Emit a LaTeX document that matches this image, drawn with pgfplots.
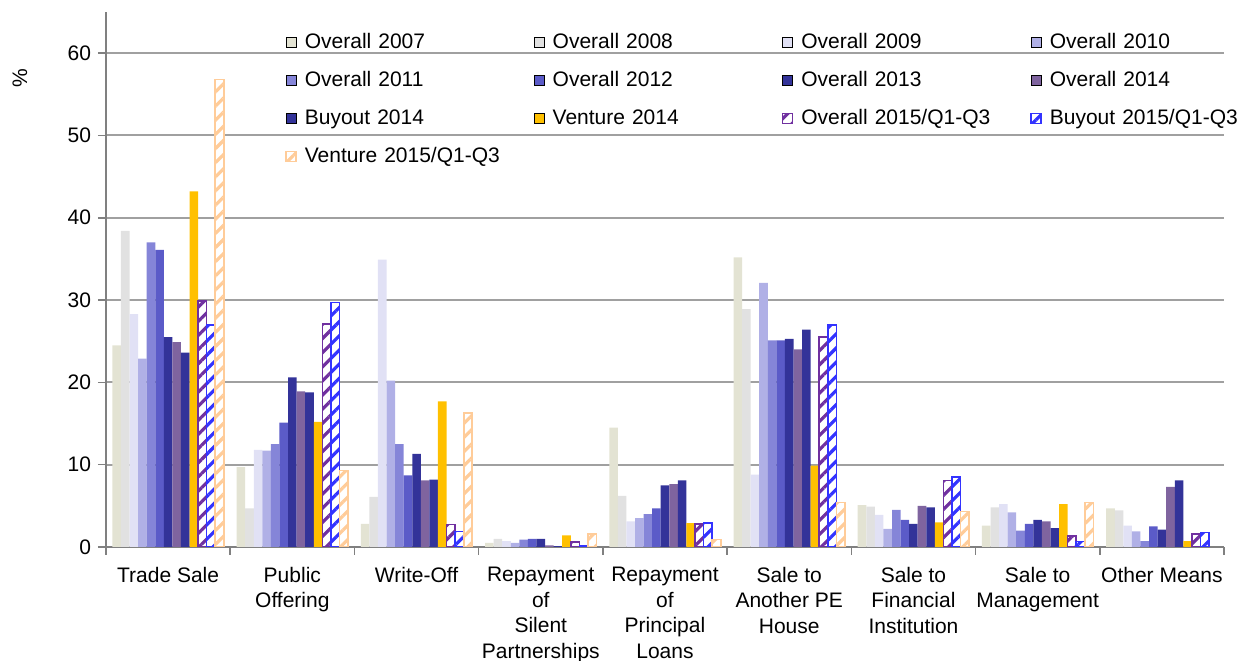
\documentclass[border=0pt]{standalone}
\usepackage{fontspec}
\setmainfont{Liberation Sans}
\usepackage{pgfplots}
\pgfplotsset{compat=1.18}
\usetikzlibrary{patterns.meta}

\definecolor{c07}{HTML}{E3E3D3}
\definecolor{c08}{HTML}{E1E1E1}
\definecolor{c09}{HTML}{E1E1F5}
\definecolor{c10}{HTML}{B0B0E6}
\definecolor{c11}{HTML}{8585D8}
\definecolor{c12}{HTML}{5B5BC8}
\definecolor{c13}{HTML}{333399}
\definecolor{c14}{HTML}{7F649F}
\definecolor{cbo14}{HTML}{333399}
\definecolor{cve14}{HTML}{FFC000}
\definecolor{c15}{HTML}{7030A0}
\definecolor{cbo15}{HTML}{3333FF}
\definecolor{cve15}{HTML}{FFCC99}
\definecolor{gridc}{HTML}{A0A0A0}

\tikzset{
  solidbar/.style={fill=#1, draw=none},
  hatchbar/.style={draw=#1, line width=0.8pt, fill=white,
    postaction={pattern={Lines[angle=45,distance=5pt,line width=1.6pt]}, pattern color=#1}},
}

\begin{document}
\begin{tikzpicture}
\begin{axis}[
  scale only axis, width=559pt, height=267.5pt,
  xmin=-0.5, xmax=8.5, ymin=0, ymax=65,
  ybar=0pt, bar width=0.069,
  axis x line=bottom, axis y line=left,
  axis line style={-, draw=gray, line width=0.8pt},
  tick align=outside, major tick length=4pt,
  tick style={draw=gray, line width=0.8pt},
  xtick={-0.5,0.5,...,8.5}, xticklabels={},
  extra x ticks={0,1,...,8},
  extra x tick labels={{Trade Sale},{Public\\Offering},{Write-Off},{Repayment\\of\\Silent\\Partnerships},{Repayment\\of\\Principal\\Loans},{Sale to\\Another PE\\House},{Sale to\\Financial\\Institution},{Sale to\\Management},{Other Means}},
  extra x tick style={major tick length=0pt, grid=none},
  xticklabel style={align=center, yshift=-6.5pt, font=\fontsize{10.5}{12.75}\selectfont},
  ytick={0,10,...,60},
  yticklabel style={font=\fontsize{10.5}{12.75}\selectfont},
  /pgf/number format/assume math mode=true,
  ymajorgrids, grid style={draw=gridc, line width=1pt},
  ylabel={\%},
  every axis y label/.style={at={(rel axis cs:0,0.877)}, xshift=-43pt, rotate=90, anchor=center, font=\fontsize{10.5}{12.75}\selectfont},
  every axis plot post/.append style={legend image code/.code={\draw[##1] (0pt,-2.5pt) rectangle (5pt,2.5pt);}},
  legend columns=4,
  legend cell align=left,
  legend style={at={(rel axis cs:0.160,0.970)}, anchor=north west, draw=none, fill=none,
    inner sep=0pt, column sep=0pt, row sep=5pt,
    font=\fontsize{10.5}{12.75}\selectfont,
    nodes={text width=110.5pt, align=left, inner xsep=4pt, inner ysep=2pt, text height=8pt, text depth=2pt}},
]
\addplot[solidbar=c07] coordinates {(0,24.5) (1,9.7) (2,2.8) (3,0.5) (4,14.5) (5,35.2) (6,5.1) (7,2.6) (8,4.7)};
\addplot[solidbar=c08] coordinates {(0,38.4) (1,4.7) (2,6.1) (3,1.0) (4,6.2) (5,28.9) (6,4.9) (7,4.8) (8,4.45)};
\addplot[solidbar=c09] coordinates {(0,28.3) (1,11.8) (2,34.9) (3,0.7) (4,3.1) (5,8.8) (6,3.9) (7,5.2) (8,2.6)};
\addplot[solidbar=c10] coordinates {(0,22.9) (1,11.7) (2,20.2) (3,0.5) (4,3.5) (5,32.1) (6,2.2) (7,4.2) (8,1.9)};
\addplot[solidbar=c11] coordinates {(0,37.0) (1,12.5) (2,12.5) (3,0.9) (4,4.0) (5,25.1) (6,4.5) (7,2.0) (8,0.7)};
\addplot[solidbar=c12] coordinates {(0,36.1) (1,15.1) (2,8.7) (3,1.0) (4,4.7) (5,25.1) (6,3.3) (7,2.8) (8,2.5)};
\addplot[solidbar=c13] coordinates {(0,25.5) (1,20.6) (2,11.3) (3,1.0) (4,7.5) (5,25.3) (6,2.8) (7,3.3) (8,2.1)};
\addplot[solidbar=c14] coordinates {(0,24.9) (1,18.9) (2,8.1) (3,0.2) (4,7.65) (5,24.0) (6,5.0) (7,3.1) (8,7.3)};
\addplot[solidbar=cbo14] coordinates {(0,23.6) (1,18.8) (2,8.2) (3,0.1) (4,8.1) (5,26.4) (6,4.8) (7,2.3) (8,8.1)};
\addplot[solidbar=cve14] coordinates {(0,43.2) (1,15.2) (2,17.7) (3,1.4) (4,2.9) (5,9.9) (6,3.0) (7,5.2) (8,0.7)};
\addplot[hatchbar=c15] coordinates {(0,29.9) (1,27.1) (2,2.75) (3,0.6) (4,2.8) (5,25.5) (6,8.1) (7,1.3) (8,1.6)};
\addplot[hatchbar=cbo15] coordinates {(0,27.0) (1,29.7) (2,1.9) (3,0.2) (4,2.9) (5,27.0) (6,8.5) (7,0.65) (8,1.75)};
\addplot[hatchbar=cve15] coordinates {(0,56.8) (1,9.3) (2,16.3) (3,1.6) (4,0.9) (5,5.4) (6,4.3) (7,5.4)};
\legend{Overall 2007,Overall 2008,Overall 2009,Overall 2010,Overall 2011,Overall 2012,Overall 2013,Overall 2014,Buyout 2014,Venture 2014,Overall 2015/Q1-Q3,Buyout 2015/Q1-Q3,Venture 2015/Q1-Q3}
\coordinate (bl) at (rel axis cs:0,0);
\coordinate (tr) at (rel axis cs:1,1);
\end{axis}
\pgfresetboundingbox
\path ([xshift=-53pt,yshift=-57pt]bl) rectangle ([xshift=11.5pt,yshift=6pt]tr);
\end{tikzpicture}
\end{document}
